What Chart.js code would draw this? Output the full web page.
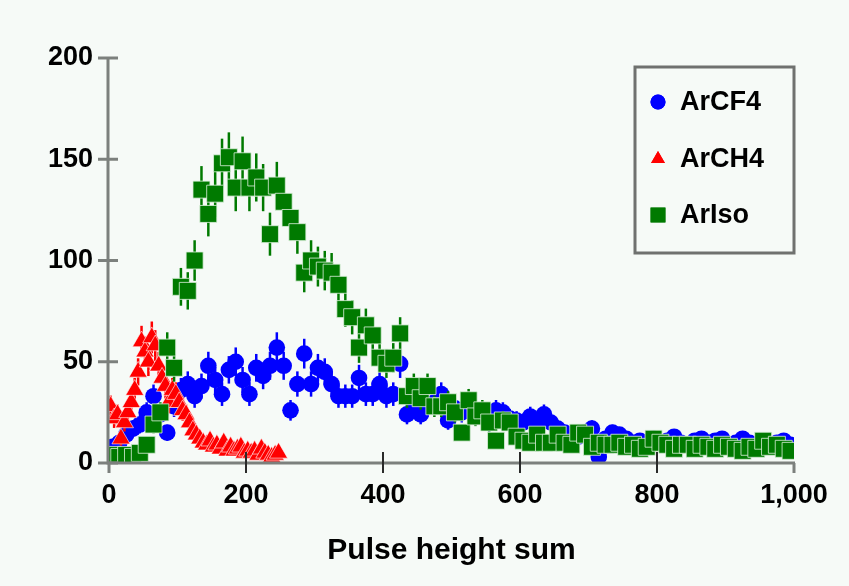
<!DOCTYPE html>
<html>
<head>
<meta charset="utf-8">
<title>Pulse height sum</title>
<style>
  html, body { margin: 0; padding: 0; background: #f6faf7; }
  #wrap { width: 849px; height: 586px; }
</style>
<script src="https://cdn.jsdelivr.net/npm/chart.js@4"></script>
</head>
<body>
<div id="wrap"><canvas id="c" width="849" height="586"></canvas></div>
<script>
// Bin centres (bin width 10) for ArCF4 and ArIso
const BIN_X = [
  5, 15, 25, 35, 45, 55, 65, 75, 85, 95,
  105, 115, 125, 135, 145, 155, 165, 175, 185, 195,
  205, 215, 225, 235, 245, 255, 265, 275, 285, 295,
  305, 315, 325, 335, 345, 355, 365, 375, 385, 395,
  405, 415, 425, 435, 445, 455, 465, 475, 485, 495,
  505, 515, 525, 535, 545, 555, 565, 575, 585, 595,
  605, 615, 625, 635, 645, 655, 665, 675, 685, 695,
  705, 715, 725, 735, 745, 755, 765, 775, 785, 795,
  805, 815, 825, 835, 845, 855, 865, 875, 885, 895,
  905, 915, 925, 935, 945, 955, 965, 975, 985, 995
];

const ARCF4_Y = [
  8, 10, 14, 17, 19, 25, 33, 24, 15, 28,
  36, 39, 33, 38, 48, 41, 34, 46, 50, 41,
  34, 47, 43, 48, 57, 48, 26, 39, 54, 39,
  47, 45, 39, 33, 33, 33, 42, 34, 34, 39,
  33, 34, 49, 24, 30, 24, 28, 30, 34, 21,
  27, 25, 29, 24, 23, 20, 26, 25, 22, 21,
  20, 23, 20, 24, 20, 17, 15, 14, 13, 15,
  17, 3, 12, 15, 14, 12, 10, 11, 9, 12,
  10, 11, 13, 10, 9, 11, 12, 10, 11, 12,
  9, 10, 12, 10, 9, 8, 9, 10, 11, 9
];

const ARISO_Y = [
  4, 3, 4, 3, 5, 9, 19, 25, 57, 47,
  87, 85, 100, 135, 123, 133, 148, 151, 136, 149,
  136, 141, 136, 113, 137, 129, 121, 114, 94, 100,
  97, 95, 94, 88, 76, 72, 57, 68, 63, 52,
  49, 52, 64, 33, 38, 32, 38, 28, 28, 30,
  25, 15, 31, 23, 26, 20, 11, 21, 20, 13,
  11, 10, 14, 10, 10, 14, 10, 9, 15, 14,
  8, 10, 9, 9, 10, 8, 9, 7, 8, 12,
  10, 9, 7, 9, 9, 7, 9, 8, 7, 9,
  8, 7, 6, 8, 7, 11, 8, 9, 7, 6
];

// ArCH4 uses finer bins (width 5) over the low range
const ARCH4_X = [
  2.5, 7.5, 12.5, 17.5, 22.5, 27.5, 32.5, 37.5, 42.5, 47.5,
  52.5, 57.5, 62.5, 67.5, 72.5, 77.5, 82.5, 87.5, 92.5, 97.5,
  102.5, 107.5, 112.5, 117.5, 122.5, 127.5, 132.5, 137.5, 142.5, 147.5,
  152.5, 157.5, 162.5, 167.5, 172.5, 177.5, 182.5, 187.5, 192.5, 197.5,
  202.5, 207.5, 212.5, 217.5, 222.5, 227.5, 232.5, 237.5, 242.5, 247.5
];
const ARCH4_Y = [
  28, 22, 24, 12, 20, 25, 30, 36, 45, 60,
  55, 50, 62, 58, 48, 42, 38, 30, 36, 34,
  30, 26, 24, 20, 16, 14, 12, 10, 9, 11,
  8, 9, 7, 10, 6, 8, 6, 7, 8, 5,
  6, 5, 6, 4, 7, 5, 4, 3, 4, 5
];

const X_TICKS = [0, 200, 400, 600, 800, 1000];
const Y_TICKS = [0, 50, 100, 150, 200];

const SERIES_LABELS = ['ArCF4', 'ArCH4', 'ArIso'];
const COLORS = { ArCF4: '#0000ff', ArCH4: '#ff0000', ArIso: '#007a00' };

const FONT = "'Liberation Sans', Arial, Helvetica, sans-serif";
const AXIS_GRAY = '#7c807d';

// counts with Poisson (sqrt N) uncertainties
function points(xs, ys) {
  return xs.map((x, i) => ({ x: x, y: ys[i], err: Math.sqrt(ys[i]) }));
}

// vertical error bars, drawn just beneath each dataset's markers
const errorBars = {
  id: 'errorBars',
  beforeDatasetDraw(chart, args) {
    const ds = chart.data.datasets[args.index];
    const ys = chart.scales.y;
    const a = chart.chartArea;
    const ctx = chart.ctx;
    ctx.save();
    ctx.beginPath();
    ctx.rect(a.left, a.top, a.right - a.left, a.bottom - a.top);
    ctx.clip();
    ctx.strokeStyle = ds.backgroundColor;
    ctx.lineWidth = 2.5;
    args.meta.data.forEach((pt, i) => {
      const d = ds.data[i];
      ctx.beginPath();
      ctx.moveTo(pt.x, ys.getPixelForValue(d.y - d.err));
      ctx.lineTo(pt.x, ys.getPixelForValue(d.y + d.err));
      ctx.stroke();
    });
    ctx.restore();
  }
};

// axis lines and tick marks
const axesLines = {
  id: 'axesLines',
  afterDatasetsDraw(chart) {
    const { ctx, chartArea: a, scales: { x, y } } = chart;
    ctx.save();
    ctx.lineCap = 'butt';
    ctx.strokeStyle = AXIS_GRAY;
    ctx.lineWidth = 3;
    const ax = a.left - 1;
    const ay = a.bottom;
    ctx.beginPath();
    ctx.moveTo(ax, a.top);
    ctx.lineTo(ax, ay + 1.5);
    ctx.moveTo(ax - 1.5, ay);
    ctx.lineTo(a.right + 1, ay);
    ctx.stroke();
    // y ticks cross the axis
    Y_TICKS.forEach(v => {
      const py = y.getPixelForValue(v);
      ctx.beginPath();
      ctx.moveTo(ax - 10, py);
      ctx.lineTo(ax + 10, py);
      ctx.stroke();
    });
    // x ticks
    X_TICKS.forEach((v, i) => {
      const px = x.getPixelForValue(v);
      ctx.beginPath();
      if (i === 0 || i === X_TICKS.length - 1) {
        ctx.strokeStyle = AXIS_GRAY;
        ctx.lineWidth = 3;
        ctx.moveTo(px, ay);
        ctx.lineTo(px, ay + 10);
      } else {
        ctx.strokeStyle = '#2a2a2a';
        ctx.lineWidth = 2;
        ctx.moveTo(px, ay - 11);
        ctx.lineTo(px, ay + 10);
      }
      ctx.stroke();
    });
    ctx.restore();
  }
};

// boxed legend in the upper right of the plot
const boxLegend = {
  id: 'boxLegend',
  afterDraw(chart) {
    const ctx = chart.ctx;
    const box = { left: 635, top: 67, right: 794, bottom: 253 };
    ctx.save();
    ctx.fillStyle = '#f6faf7';
    ctx.fillRect(box.left, box.top, box.right - box.left, box.bottom - box.top);
    ctx.strokeStyle = '#6f716f';
    ctx.lineWidth = 3;
    ctx.strokeRect(box.left, box.top, box.right - box.left, box.bottom - box.top);
    const rows = [102, 159, 215];
    const byLabel = {};
    chart.data.datasets.forEach(ds => { byLabel[ds.label] = ds; });
    SERIES_LABELS.forEach((lab, i) => {
      const ds = byLabel[lab];
      const cy = rows[i];
      ctx.fillStyle = ds.backgroundColor;
      const r = ds.pointStyle === 'rect' ? 10.5 : (ds.pointStyle === 'triangle' ? 8 : 7.5);
      Chart.helpers.drawPoint(ctx, { pointStyle: ds.pointStyle, radius: r, rotation: 0, borderWidth: 0 }, 658, cy);
      ctx.fill();
      ctx.fillStyle = '#000';
      ctx.font = 'bold 27px ' + FONT;
      ctx.textBaseline = 'middle';
      ctx.textAlign = 'left';
      ctx.fillText(lab, 680, cy + 1);
    });
    ctx.restore();
  }
};

const bg = {
  id: 'bg',
  beforeDraw(chart) {
    const ctx = chart.ctx;
    ctx.save();
    ctx.fillStyle = '#f6faf7';
    ctx.fillRect(0, 0, chart.width, chart.height);
    ctx.restore();
  }
};

new Chart(document.getElementById('c'), {
  type: 'scatter',
  data: {
    datasets: [
      {
        label: 'ArCF4',
        data: points(BIN_X, ARCF4_Y),
        pointStyle: 'circle',
        pointRadius: 8.3,
        backgroundColor: COLORS.ArCF4,
        borderColor: COLORS.ArCF4,
        borderWidth: 0,
        order: 2,
        clip: 0
      },
      {
        label: 'ArCH4',
        data: points(ARCH4_X, ARCH4_Y),
        pointStyle: 'triangle',
        pointRadius: 10.5,
        backgroundColor: COLORS.ArCH4,
        borderColor: 'rgba(255,255,255,0.6)',
        borderWidth: 1,
        order: 1,
        clip: 0
      },
      {
        label: 'ArIso',
        data: points(BIN_X, ARISO_Y),
        pointStyle: 'rect',
        pointRadius: 12,
        backgroundColor: COLORS.ArIso,
        borderColor: 'rgba(220,240,220,0.8)',
        borderWidth: 1,
        order: 0,
        clip: 0
      }
    ]
  },
  options: {
    responsive: false,
    devicePixelRatio: 1,
    animation: false,
    events: [],
    layout: { padding: { left: 0, right: 55, top: 58, bottom: 0 } },
    plugins: {
      legend: { display: false },
      tooltip: { enabled: false }
    },
    scales: {
      x: {
        type: 'linear',
        min: 0,
        max: 1000,
        afterBuildTicks(scale) { scale.ticks = X_TICKS.map(v => ({ value: v })); },
        afterFit(scale) { scale.height = 123; },
        grid: { display: false, drawTicks: false },
        border: { display: false },
        ticks: {
          padding: 16,
          color: '#000',
          font: { family: FONT, size: 27, weight: 'bold' },
          maxRotation: 0
        },
        title: {
          display: true,
          text: 'Pulse height sum',
          color: '#000',
          font: { family: FONT, size: 30, weight: 'bold' },
          padding: { top: 0, bottom: 17 }
        }
      },
      y: {
        type: 'linear',
        min: 0,
        max: 200,
        afterBuildTicks(scale) { scale.ticks = Y_TICKS.map(v => ({ value: v })); },
        afterFit(scale) { scale.width = 109; },
        grid: { display: false, drawTicks: false },
        border: { display: false },
        ticks: {
          padding: 16,
          color: '#000',
          font: { family: FONT, size: 27, weight: 'bold' }
        }
      }
    }
  },
  plugins: [bg, errorBars, axesLines, boxLegend]
});
</script>
</body>
</html>
